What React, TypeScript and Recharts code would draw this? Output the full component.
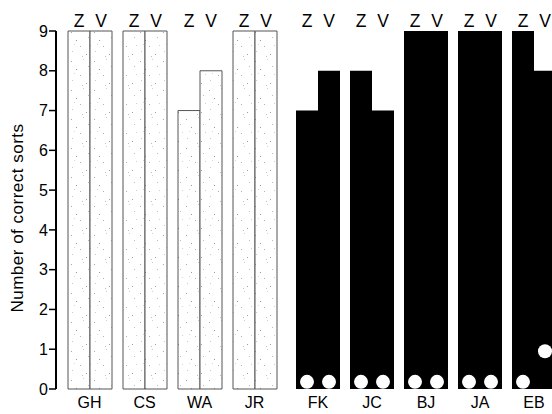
import React from 'react';
import { BarChart, Bar, XAxis, YAxis, LabelList, Label } from 'recharts';

// left block: stippled bars
const leftNames = ['GH', 'CS', 'WA', 'JR'];
const leftZ = [9, 9, 7, 9];
const leftV = [9, 9, 8, 9];

// right block: black bars with white markers
const rightNames = ['FK', 'JC', 'BJ', 'JA', 'EB'];
const rightZ = [7, 8, 9, 9, 9];
const rightV = [8, 7, 9, 9, 8];
const markZ = [0.18, 0.18, 0.18, 0.18, 0.18];
const markV = [0.18, 0.18, 0.18, 0.18, 0.95];

const yTicks = [0, 1, 2, 3, 4, 5, 6, 7, 8, 9];

const leftData = leftNames.map((name, i) => ({ name, z: leftZ[i], v: leftV[i] }));
const rightData = rightNames.map((name, i) => ({ name, z: rightZ[i], v: rightV[i] }));

const FONT = 'Liberation Sans, Arial, sans-serif';
const TOP = 31;

const topLetter = (letter: string) => (props: any) => {
  const { x, width } = props;
  return (
    <text x={Number(x) + Number(width) / 2} y={TOP - 4} textAnchor="middle" fontSize={17.5} fontFamily={FONT} fill="#000">
      {letter}
    </text>
  );
};

const marker = (marks: number[]) => (props: any) => {
  const { x, y, width, height, value, index } = props;
  const unit = Number(height) / Number(value);
  const cy = Number(y) + Number(height) - marks[index] * unit;
  return <circle cx={Number(x) + Number(width) / 2} cy={cy} r={7} fill="#fff" />;
};

const yLabel = (props: any) => {
  const vb = props.viewBox || {};
  const cy = Number(vb.y) + Number(vb.height) / 2 + 8;
  const cx = 17;
  return (
    <text x={cx} y={cy} transform={`rotate(-90 ${cx} ${cy})`} textAnchor="middle" dominantBaseline="central" fontSize={17} fontFamily={FONT} fill="#000" letterSpacing={0.5}>
      Number of correct sorts
    </text>
  );
};

const tickStyle = { fontSize: 16, fontFamily: FONT, fill: '#000' };

export default function App() {
  return (
    <div style={{ position: 'fixed', left: 0, top: 0, width: 552, height: 414, overflow: 'hidden', background: '#fff' }}>
      <div style={{ position: 'absolute', left: 0, top: 0 }}>
        <BarChart width={282} height={414} data={leftData} margin={{ top: TOP, right: 0, bottom: 0, left: 0 }} barGap={0} barSize={22}>
          <defs>
            <pattern id="stipple" width="23" height="29" patternUnits="userSpaceOnUse">
              <rect width="23" height="29" fill="#fff" />
              <rect x="2" y="3" width="1" height="1" fill="#a8a8a8" />
              <rect x="14" y="1" width="1" height="1" fill="#cfcfcf" />
              <rect x="7" y="11" width="1" height="1" fill="#999" />
              <rect x="19" y="8" width="1" height="1" fill="#bdbdbd" />
              <rect x="11" y="17" width="1" height="1" fill="#b0b0b0" />
              <rect x="3" y="22" width="1" height="1" fill="#c8c8c8" />
              <rect x="17" y="25" width="1" height="1" fill="#a0a0a0" />
              <rect x="21" y="16" width="1" height="1" fill="#d0d0d0" />
              <rect x="5" y="15" width="1" height="1" fill="#d6d6d6" />
              <rect x="13" y="27" width="1" height="1" fill="#c0c0c0" />
            </pattern>
          </defs>
          <XAxis dataKey="name" height={25} axisLine={false} tickLine={false} tick={tickStyle} padding={{ left: 6, right: 0 }} />
          <YAxis
            width={56}
            domain={[0, 9]}
            ticks={yTicks}
            interval={0}
            tick={tickStyle}
            tickSize={7}
            tickMargin={1}
            axisLine={{ stroke: '#000', strokeWidth: 2 }}
            tickLine={{ stroke: '#000', strokeWidth: 1.5 }}
          >
            <Label content={yLabel} />
          </YAxis>
          <Bar dataKey="z" fill="url(#stipple)" stroke="#555" strokeWidth={1} isAnimationActive={false}>
            <LabelList dataKey="z" content={topLetter('Z')} />
          </Bar>
          <Bar dataKey="v" fill="url(#stipple)" stroke="#555" strokeWidth={1} isAnimationActive={false}>
            <LabelList dataKey="v" content={topLetter('V')} />
          </Bar>
        </BarChart>
      </div>
      <div style={{ position: 'absolute', left: 291, top: 0 }}>
        <BarChart width={270} height={414} data={rightData} margin={{ top: TOP, right: 0, bottom: 0, left: 0 }} barGap={0} barSize={22}>
          <XAxis dataKey="name" height={25} axisLine={false} tickLine={false} tick={tickStyle} />
          <YAxis hide domain={[0, 9]} />
          <Bar dataKey="z" fill="#000" isAnimationActive={false}>
            <LabelList dataKey="z" content={topLetter('Z')} />
            <LabelList dataKey="z" content={marker(markZ)} />
          </Bar>
          <Bar dataKey="v" fill="#000" isAnimationActive={false}>
            <LabelList dataKey="v" content={topLetter('V')} />
            <LabelList dataKey="v" content={marker(markV)} />
          </Bar>
        </BarChart>
      </div>
    </div>
  );
}
